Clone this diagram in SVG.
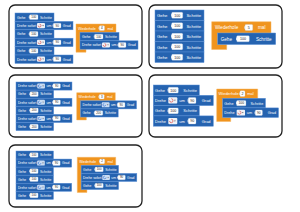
<svg xmlns="http://www.w3.org/2000/svg" width="300" height="212" viewBox="0 0 300 212">
<style>
.p{fill:#fff;stroke:#222;stroke-width:1.3}
.b{fill:#2563b0;stroke:#5a8fd6;stroke-width:.5}
.o{fill:#f0941e;stroke:#f6b560;stroke-width:.5}
.f{fill:#fff;stroke:#b9c9de;stroke-width:.3}
.n{fill:#dfe8f4}
.ic{fill:#eef2f8}
.ic2{fill:#c9dcf3}
.ar{fill:none;stroke:#d9342b;stroke-width:.6}
.ar2{fill:none;stroke:#2a6ad0;stroke-width:.6}
.tr{fill:#777}
text{font-family:"Liberation Sans",Arial,sans-serif}
.t{fill:#fff}
.s{font-size:3.5px}
.v{fill:#222;font-size:3px;text-anchor:middle}
.s4{font-size:4px}
.v4{fill:#222;font-size:3.6px;text-anchor:middle}
.s2{font-size:4.3px}
.s2b{font-size:4.6px}
</style>
<g id="panels">
<rect id="panel1" class="p" x="9" y="5" width="133" height="63" rx="6"/>
<rect id="panel2" class="p" x="149" y="5" width="133" height="63" rx="6"/>
<rect id="panel3" class="p" x="9" y="75" width="133" height="62" rx="6"/>
<rect id="panel4" class="p" x="149" y="75" width="133" height="62" rx="6"/>
<rect id="panel5" class="p" x="9" y="145" width="133" height="62" rx="6"/>
</g>
<g id="connectors"></g>

<!-- Panel 1 -->
<g id="p1-stack">
<g id="p1-gehe1" transform="translate(15,13)"><rect class="b" width="39" height="8.4"/><text class="t s" x="2" y="5.6">Gehe</text><rect class="n" x="13.8" y="3.2" width="1" height="2"/><rect class="f" x="14.5" y="1.8" width="8.5" height="4.8" rx=".8"/><text class="v" x="18.75" y="5.2">100</text><text class="t s" x="25" y="5.6">Schritte</text></g>
<g id="p1-drehe1" transform="translate(15,21.4)"><rect class="b" width="58" height="8.4"/><text class="t s" x="2" y="5.6">Drehe sofort</text><rect class="ic" x="22" y="1.6" width="8" height="5.2" rx="1"/><path class="ar" d="M24.6,2.8 A1.4,1.4 0 1 1 23.2,4.2"/><path class="tr" d="M27.2,3.6 H29 L28.1,4.8 Z"/><text class="t s" x="31.5" y="5.6">um</text><rect class="n" x="37.6" y="3.2" width="1" height="2"/><rect class="f" x="38.3" y="1.8" width="7.7" height="4.8" rx=".8"/><text class="v" x="42.15" y="5.2">90</text><text class="t s" x="47.8" y="5.6">Grad</text></g>
<g id="p1-gehe2" transform="translate(15,29.8)"><rect class="b" width="39" height="8.4"/><text class="t s" x="2" y="5.6">Gehe</text><rect class="n" x="13.8" y="3.2" width="1" height="2"/><rect class="f" x="14.5" y="1.8" width="8.5" height="4.8" rx=".8"/><text class="v" x="18.75" y="5.2">100</text><text class="t s" x="25" y="5.6">Schritte</text></g>
<g id="p1-drehe2" transform="translate(15,38.2)"><rect class="b" width="58" height="8.4"/><text class="t s" x="2" y="5.6">Drehe sofort</text><rect class="ic" x="22" y="1.6" width="8" height="5.2" rx="1"/><path class="ar" d="M24.6,2.8 A1.4,1.4 0 1 1 23.2,4.2"/><path class="tr" d="M27.2,3.6 H29 L28.1,4.8 Z"/><text class="t s" x="31.5" y="5.6">um</text><rect class="n" x="37.6" y="3.2" width="1" height="2"/><rect class="f" x="38.3" y="1.8" width="7.7" height="4.8" rx=".8"/><text class="v" x="42.15" y="5.2">90</text><text class="t s" x="47.8" y="5.6">Grad</text></g>
<g id="p1-gehe3" transform="translate(15,46.6)"><rect class="b" width="39" height="8.4"/><text class="t s" x="2" y="5.6">Gehe</text><rect class="n" x="13.8" y="3.2" width="1" height="2"/><rect class="f" x="14.5" y="1.8" width="8.5" height="4.8" rx=".8"/><text class="v" x="18.75" y="5.2">100</text><text class="t s" x="25" y="5.6">Schritte</text></g>
<g id="p1-drehe3" transform="translate(15,55)"><rect class="b" width="58" height="8.4"/><text class="t s" x="2" y="5.6">Drehe sofort</text><rect class="ic" x="22" y="1.6" width="8" height="5.2" rx="1"/><path class="ar" d="M24.6,2.8 A1.4,1.4 0 1 1 23.2,4.2"/><path class="tr" d="M27.2,3.6 H29 L28.1,4.8 Z"/><text class="t s" x="31.5" y="5.6">um</text><rect class="n" x="37.6" y="3.2" width="1" height="2"/><rect class="f" x="38.3" y="1.8" width="7.7" height="4.8" rx=".8"/><text class="v" x="42.15" y="5.2">90</text><text class="t s" x="47.8" y="5.6">Grad</text></g>
</g>
<g id="p1-repeat" transform="translate(76,24)">
<path class="o" d="M0,0 H40 V8.4 H4 V25.2 H10 V28.2 H0 Z"/>
<text class="t s" x="2" y="5.6">Wiederhole</text><rect class="n" x="22.6" y="3.2" width="1" height="2"/><rect class="f" x="23.3" y="1.8" width="5.2" height="4.8" rx=".8"/><text class="v" x="25.9" y="5.2">4</text><text class="t s" x="31.5" y="5.6">mal</text>
<g id="p1-r-gehe" transform="translate(4,8.4)"><rect class="b" width="39" height="8.4"/><text class="t s" x="2" y="5.6">Gehe</text><rect class="n" x="13.8" y="3.2" width="1" height="2"/><rect class="f" x="14.5" y="1.8" width="8.5" height="4.8" rx=".8"/><text class="v" x="18.75" y="5.2">100</text><text class="t s" x="25" y="5.6">Schritte</text></g>
<g id="p1-r-drehe" transform="translate(4,16.8)"><rect class="b" width="58" height="8.4"/><text class="t s" x="2" y="5.6">Drehe sofort</text><rect class="ic" x="22" y="1.6" width="8" height="5.2" rx="1"/><path class="ar" d="M24.6,2.8 A1.4,1.4 0 1 1 23.2,4.2"/><path class="tr" d="M27.2,3.6 H29 L28.1,4.8 Z"/><text class="t s" x="31.5" y="5.6">um</text><rect class="n" x="37.6" y="3.2" width="1" height="2"/><rect class="f" x="38.3" y="1.8" width="7.7" height="4.8" rx=".8"/><text class="v" x="42.15" y="5.2">90</text><text class="t s" x="47.8" y="5.6">Grad</text></g>
</g>

<!-- Panel 2 -->
<g id="p2-stack">
<g id="p2-gehe1" transform="translate(155,10)"><rect class="b" width="49" height="10.5"/><text class="t s2" x="2" y="7">Gehe</text><rect class="n" x="16" y="4.1" width="1.2" height="2.4"/><rect class="f" x="16.7" y="2.3" width="11" height="5.9" rx="1"/><text class="v4" x="22.2" y="6.5">100</text><text class="t s2" x="31.5" y="7">Schritte</text></g>
<g id="p2-gehe2" transform="translate(155,20.5)"><rect class="b" width="49" height="10.5"/><text class="t s2" x="2" y="7">Gehe</text><rect class="n" x="16" y="4.1" width="1.2" height="2.4"/><rect class="f" x="16.7" y="2.3" width="11" height="5.9" rx="1"/><text class="v4" x="22.2" y="6.5">100</text><text class="t s2" x="31.5" y="7">Schritte</text></g>
<g id="p2-gehe3" transform="translate(155,31)"><rect class="b" width="49" height="10.5"/><text class="t s2" x="2" y="7">Gehe</text><rect class="n" x="16" y="4.1" width="1.2" height="2.4"/><rect class="f" x="16.7" y="2.3" width="11" height="5.9" rx="1"/><text class="v4" x="22.2" y="6.5">100</text><text class="t s2" x="31.5" y="7">Schritte</text></g>
<g id="p2-gehe4" transform="translate(155,41.5)"><rect class="b" width="49" height="10.5"/><text class="t s2" x="2" y="7">Gehe</text><rect class="n" x="16" y="4.1" width="1.2" height="2.4"/><rect class="f" x="16.7" y="2.3" width="11" height="5.9" rx="1"/><text class="v4" x="22.2" y="6.5">100</text><text class="t s2" x="31.5" y="7">Schritte</text></g>
<g id="p2-gehe5" transform="translate(155,52)"><rect class="b" width="49" height="10.5"/><text class="t s2" x="2" y="7">Gehe</text><rect class="n" x="16" y="4.1" width="1.2" height="2.4"/><rect class="f" x="16.7" y="2.3" width="11" height="5.9" rx="1"/><text class="v4" x="22.2" y="6.5">100</text><text class="t s2" x="31.5" y="7">Schritte</text></g>
</g>
<g id="p2-repeat" transform="translate(211.7,21.7)">
<path class="o" d="M0,0 H59.3 V11.3 H6 V22.8 H15 V27.8 H0 Z"/>
<text class="t s2b" x="3.3" y="7.6">Wiederhole</text><rect class="n" x="32.6" y="4.6" width="1.2" height="2.4"/><rect class="f" x="33.3" y="2.7" width="7.7" height="6" rx="1"/><text class="v4" x="37.15" y="7.1">5</text><text class="t s2b" x="46.3" y="7.6">mal</text>
<g id="p2-r-gehe" transform="translate(6,11.3)"><rect class="b" width="58" height="11.5"/><text class="t s2b" x="3" y="7.6">Gehe</text><rect class="n" x="18.3" y="4.6" width="1.2" height="2.4"/><rect class="f" x="19" y="2.8" width="12.6" height="6" rx="1"/><text class="v4" x="25.3" y="7.1">100</text><text class="t s2b" x="38.3" y="7.6">Schritte</text></g>
</g>

<!-- Panel 3 -->
<g id="p3-stack" transform="translate(16,82) scale(0.965)">
<g id="p3-drehe1"><rect class="b" width="58" height="8.4"/><text class="t s" x="2" y="5.6">Drehe sofort</text><rect class="ic2" x="22" y="1.6" width="8" height="5.2" rx="1"/><path class="ar2" d="M24.6,2.8 A1.4,1.4 0 1 0 26,4.2"/><path class="tr" d="M27.2,3.6 H29 L28.1,4.8 Z"/><text class="t s" x="31.5" y="5.6">um</text><rect class="n" x="37.6" y="3.2" width="1" height="2"/><rect class="f" x="38.3" y="1.8" width="7.7" height="4.8" rx=".8"/><text class="v" x="42.15" y="5.2">90</text><text class="t s" x="47.8" y="5.6">Grad</text></g>
<g id="p3-gehe1" transform="translate(0,8.4)"><rect class="b" width="39" height="8.4"/><text class="t s" x="2" y="5.6">Gehe</text><rect class="n" x="13.8" y="3.2" width="1" height="2"/><rect class="f" x="14.5" y="1.8" width="8.5" height="4.8" rx=".8"/><text class="v" x="18.75" y="5.2">200</text><text class="t s" x="25" y="5.6">Schritte</text></g>
<g id="p3-drehe2" transform="translate(0,16.8)"><rect class="b" width="58" height="8.4"/><text class="t s" x="2" y="5.6">Drehe sofort</text><rect class="ic2" x="22" y="1.6" width="8" height="5.2" rx="1"/><path class="ar2" d="M24.6,2.8 A1.4,1.4 0 1 0 26,4.2"/><path class="tr" d="M27.2,3.6 H29 L28.1,4.8 Z"/><text class="t s" x="31.5" y="5.6">um</text><rect class="n" x="37.6" y="3.2" width="1" height="2"/><rect class="f" x="38.3" y="1.8" width="7.7" height="4.8" rx=".8"/><text class="v" x="42.15" y="5.2">90</text><text class="t s" x="47.8" y="5.6">Grad</text></g>
<g id="p3-gehe2" transform="translate(0,25.2)"><rect class="b" width="39" height="8.4"/><text class="t s" x="2" y="5.6">Gehe</text><rect class="n" x="13.8" y="3.2" width="1" height="2"/><rect class="f" x="14.5" y="1.8" width="8.5" height="4.8" rx=".8"/><text class="v" x="18.75" y="5.2">200</text><text class="t s" x="25" y="5.6">Schritte</text></g>
<g id="p3-drehe3" transform="translate(0,33.6)"><rect class="b" width="58" height="8.4"/><text class="t s" x="2" y="5.6">Drehe sofort</text><rect class="ic2" x="22" y="1.6" width="8" height="5.2" rx="1"/><path class="ar2" d="M24.6,2.8 A1.4,1.4 0 1 0 26,4.2"/><path class="tr" d="M27.2,3.6 H29 L28.1,4.8 Z"/><text class="t s" x="31.5" y="5.6">um</text><rect class="n" x="37.6" y="3.2" width="1" height="2"/><rect class="f" x="38.3" y="1.8" width="7.7" height="4.8" rx=".8"/><text class="v" x="42.15" y="5.2">90</text><text class="t s" x="47.8" y="5.6">Grad</text></g>
<g id="p3-gehe3" transform="translate(0,42)"><rect class="b" width="39" height="8.4"/><text class="t s" x="2" y="5.6">Gehe</text><rect class="n" x="13.8" y="3.2" width="1" height="2"/><rect class="f" x="14.5" y="1.8" width="8.5" height="4.8" rx=".8"/><text class="v" x="18.75" y="5.2">200</text><text class="t s" x="25" y="5.6">Schritte</text></g>
</g>
<g id="p3-repeat" transform="translate(76.7,92.7) scale(0.965)">
<path class="o" d="M0,0 H40 V8.4 H4 V25.2 H10 V28.2 H0 Z"/>
<text class="t s" x="2" y="5.6">Wiederhole</text><rect class="n" x="22.6" y="3.2" width="1" height="2"/><rect class="f" x="23.3" y="1.8" width="5.2" height="4.8" rx=".8"/><text class="v" x="25.9" y="5.2">3</text><text class="t s" x="31.5" y="5.6">mal</text>
<g id="p3-r-drehe" transform="translate(4,8.4)"><rect class="b" width="58" height="8.4"/><text class="t s" x="2" y="5.6">Drehe sofort</text><rect class="ic2" x="22" y="1.6" width="8" height="5.2" rx="1"/><path class="ar2" d="M24.6,2.8 A1.4,1.4 0 1 0 26,4.2"/><path class="tr" d="M27.2,3.6 H29 L28.1,4.8 Z"/><text class="t s" x="31.5" y="5.6">um</text><rect class="n" x="37.6" y="3.2" width="1" height="2"/><rect class="f" x="38.3" y="1.8" width="7.7" height="4.8" rx=".8"/><text class="v" x="42.15" y="5.2">90</text><text class="t s" x="47.8" y="5.6">Grad</text></g>
<g id="p3-r-gehe" transform="translate(4,16.8)"><rect class="b" width="39" height="8.4"/><text class="t s" x="2" y="5.6">Gehe</text><rect class="n" x="13.8" y="3.2" width="1" height="2"/><rect class="f" x="14.5" y="1.8" width="8.5" height="4.8" rx=".8"/><text class="v" x="18.75" y="5.2">200</text><text class="t s" x="25" y="5.6">Schritte</text></g>
</g>

<!-- Panel 4 -->
<g id="p4-stack" transform="translate(153.3,85)">
<g id="p4-gehe1"><rect class="b" width="46" height="10.3"/><text class="t s4" x="1.8" y="6.9">Gehe</text><rect class="n" x="14.3" y="4" width="1.2" height="2.4"/><rect class="f" x="15" y="2.3" width="10" height="5.8" rx="1"/><text class="v4" x="20" y="6.5">100</text><text class="t s4" x="30" y="6.9">Schritte</text></g>
<g id="p4-drehe1" transform="translate(0,10.3)"><rect class="b" width="60" height="10.3"/><text class="t s4" x="1.8" y="6.9">Drehe</text><rect class="ic" x="15" y="2" width="9" height="6.3" rx="1"/><path class="ar" d="M18,3.4 A1.7,1.7 0 1 1 16.3,5.1"/><path class="tr" d="M20.6,4.5 H22.6 L21.6,5.8 Z"/><text class="t s4" x="26" y="6.9">um</text><rect class="n" x="34.3" y="4" width="1.2" height="2.4"/><rect class="f" x="35" y="2.3" width="7.7" height="5.8" rx="1"/><text class="v4" x="38.85" y="6.5">90</text><text class="t s4" x="48.4" y="6.9">Grad</text></g>
<g id="p4-gehe2" transform="translate(0,20.6)"><rect class="b" width="46" height="10.3"/><text class="t s4" x="1.8" y="6.9">Gehe</text><rect class="n" x="14.3" y="4" width="1.2" height="2.4"/><rect class="f" x="15" y="2.3" width="10" height="5.8" rx="1"/><text class="v4" x="20" y="6.5">100</text><text class="t s4" x="30" y="6.9">Schritte</text></g>
<g id="p4-drehe2" transform="translate(0,30.9)"><rect class="b" width="60" height="10.3"/><text class="t s4" x="1.8" y="6.9">Drehe</text><rect class="ic" x="15" y="2" width="9" height="6.3" rx="1"/><path class="ar" d="M18,3.4 A1.7,1.7 0 1 1 16.3,5.1"/><path class="tr" d="M20.6,4.5 H22.6 L21.6,5.8 Z"/><text class="t s4" x="26" y="6.9">um</text><rect class="n" x="34.3" y="4" width="1.2" height="2.4"/><rect class="f" x="35" y="2.3" width="7.7" height="5.8" rx="1"/><text class="v4" x="38.85" y="6.5">90</text><text class="t s4" x="48.4" y="6.9">Grad</text></g>
</g>
<g id="p4-repeat" transform="translate(216.7,89)">
<path class="o" d="M0,0 H41 V9.3 H6 V28.5 H14 V32.5 H0 Z"/>
<text class="t s4" x="1.8" y="6.3">Wiederhole</text><rect class="n" x="22.6" y="3.5" width="1.2" height="2.4"/><rect class="f" x="23.3" y="1.8" width="5" height="5.8" rx="1"/><text class="v4" x="25.8" y="6">2</text><text class="t s4" x="30.5" y="6.3">mal</text>
<g id="p4-r-gehe" transform="translate(6,9.3) scale(0.93)"><rect class="b" width="46" height="10.3"/><text class="t s4" x="1.8" y="6.9">Gehe</text><rect class="n" x="14.3" y="4" width="1.2" height="2.4"/><rect class="f" x="15" y="2.3" width="10" height="5.8" rx="1"/><text class="v4" x="20" y="6.5">100</text><text class="t s4" x="30" y="6.9">Schritte</text></g>
<g id="p4-r-drehe" transform="translate(6,18.9) scale(0.93)"><rect class="b" width="60" height="10.3"/><text class="t s4" x="1.8" y="6.9">Drehe</text><rect class="ic" x="15" y="2" width="9" height="6.3" rx="1"/><path class="ar" d="M18,3.4 A1.7,1.7 0 1 1 16.3,5.1"/><path class="tr" d="M20.6,4.5 H22.6 L21.6,5.8 Z"/><text class="t s4" x="26" y="6.9">um</text><rect class="n" x="34.3" y="4" width="1.2" height="2.4"/><rect class="f" x="35" y="2.3" width="7.7" height="5.8" rx="1"/><text class="v4" x="38.85" y="6.5">90</text><text class="t s4" x="48.4" y="6.9">Grad</text></g>
</g>

<!-- Panel 5 -->
<g id="p5-stack" transform="translate(16,151) scale(0.96)">
<g id="p5-gehe1"><rect class="b" width="39" height="8.4"/><text class="t s" x="2" y="5.6">Gehe</text><rect class="n" x="13.8" y="3.2" width="1" height="2"/><rect class="f" x="14.5" y="1.8" width="8.5" height="4.8" rx=".8"/><text class="v" x="18.75" y="5.2">100</text><text class="t s" x="25" y="5.6">Schritte</text></g>
<g id="p5-drehe1" transform="translate(0,8.4)"><rect class="b" width="58" height="8.4"/><text class="t s" x="2" y="5.6">Drehe sofort</text><rect class="ic2" x="22" y="1.6" width="8" height="5.2" rx="1"/><path class="ar2" d="M24.6,2.8 A1.4,1.4 0 1 0 26,4.2"/><path class="tr" d="M27.2,3.6 H29 L28.1,4.8 Z"/><text class="t s" x="31.5" y="5.6">um</text><rect class="n" x="37.6" y="3.2" width="1" height="2"/><rect class="f" x="38.3" y="1.8" width="7.7" height="4.8" rx=".8"/><text class="v" x="42.15" y="5.2">90</text><text class="t s" x="47.8" y="5.6">Grad</text></g>
<g id="p5-gehe2" transform="translate(0,16.8)"><rect class="b" width="39" height="8.4"/><text class="t s" x="2" y="5.6">Gehe</text><rect class="n" x="13.8" y="3.2" width="1" height="2"/><rect class="f" x="14.5" y="1.8" width="8.5" height="4.8" rx=".8"/><text class="v" x="18.75" y="5.2">100</text><text class="t s" x="25" y="5.6">Schritte</text></g>
<g id="p5-gehe3" transform="translate(0,25.2)"><rect class="b" width="39" height="8.4"/><text class="t s" x="2" y="5.6">Gehe</text><rect class="n" x="13.8" y="3.2" width="1" height="2"/><rect class="f" x="14.5" y="1.8" width="8.5" height="4.8" rx=".8"/><text class="v" x="18.75" y="5.2">100</text><text class="t s" x="25" y="5.6">Schritte</text></g>
<g id="p5-drehe2" transform="translate(0,33.6)"><rect class="b" width="58" height="8.4"/><text class="t s" x="2" y="5.6">Drehe sofort</text><rect class="ic2" x="22" y="1.6" width="8" height="5.2" rx="1"/><path class="ar2" d="M24.6,2.8 A1.4,1.4 0 1 0 26,4.2"/><path class="tr" d="M27.2,3.6 H29 L28.1,4.8 Z"/><text class="t s" x="31.5" y="5.6">um</text><rect class="n" x="37.6" y="3.2" width="1" height="2"/><rect class="f" x="38.3" y="1.8" width="7.7" height="4.8" rx=".8"/><text class="v" x="42.15" y="5.2">90</text><text class="t s" x="47.8" y="5.6">Grad</text></g>
<g id="p5-gehe4" transform="translate(0,42)"><rect class="b" width="39" height="8.4"/><text class="t s" x="2" y="5.6">Gehe</text><rect class="n" x="13.8" y="3.2" width="1" height="2"/><rect class="f" x="14.5" y="1.8" width="8.5" height="4.8" rx=".8"/><text class="v" x="18.75" y="5.2">100</text><text class="t s" x="25" y="5.6">Schritte</text></g>
</g>
<g id="p5-repeat" transform="translate(77.3,157.3) scale(0.96)">
<path class="o" d="M0,0 H40 V8.4 H4 V33.6 H10 V36.6 H0 Z"/>
<text class="t s" x="2" y="5.6">Wiederhole</text><rect class="n" x="22.6" y="3.2" width="1" height="2"/><rect class="f" x="23.3" y="1.8" width="5.2" height="4.8" rx=".8"/><text class="v" x="25.9" y="5.2">2</text><text class="t s" x="31.5" y="5.6">mal</text>
<g id="p5-r-gehe1" transform="translate(4,8.4)"><rect class="b" width="39" height="8.4"/><text class="t s" x="2" y="5.6">Gehe</text><rect class="n" x="13.8" y="3.2" width="1" height="2"/><rect class="f" x="14.5" y="1.8" width="8.5" height="4.8" rx=".8"/><text class="v" x="18.75" y="5.2">100</text><text class="t s" x="25" y="5.6">Schritte</text></g>
<g id="p5-r-drehe" transform="translate(4,16.8)"><rect class="b" width="58" height="8.4"/><text class="t s" x="2" y="5.6">Drehe sofort</text><rect class="ic2" x="22" y="1.6" width="8" height="5.2" rx="1"/><path class="ar2" d="M24.6,2.8 A1.4,1.4 0 1 0 26,4.2"/><path class="tr" d="M27.2,3.6 H29 L28.1,4.8 Z"/><text class="t s" x="31.5" y="5.6">um</text><rect class="n" x="37.6" y="3.2" width="1" height="2"/><rect class="f" x="38.3" y="1.8" width="7.7" height="4.8" rx=".8"/><text class="v" x="42.15" y="5.2">90</text><text class="t s" x="47.8" y="5.6">Grad</text></g>
<g id="p5-r-gehe2" transform="translate(4,25.2)"><rect class="b" width="39" height="8.4"/><text class="t s" x="2" y="5.6">Gehe</text><rect class="n" x="13.8" y="3.2" width="1" height="2"/><rect class="f" x="14.5" y="1.8" width="8.5" height="4.8" rx=".8"/><text class="v" x="18.75" y="5.2">100</text><text class="t s" x="25" y="5.6">Schritte</text></g>
</g>
</svg>
